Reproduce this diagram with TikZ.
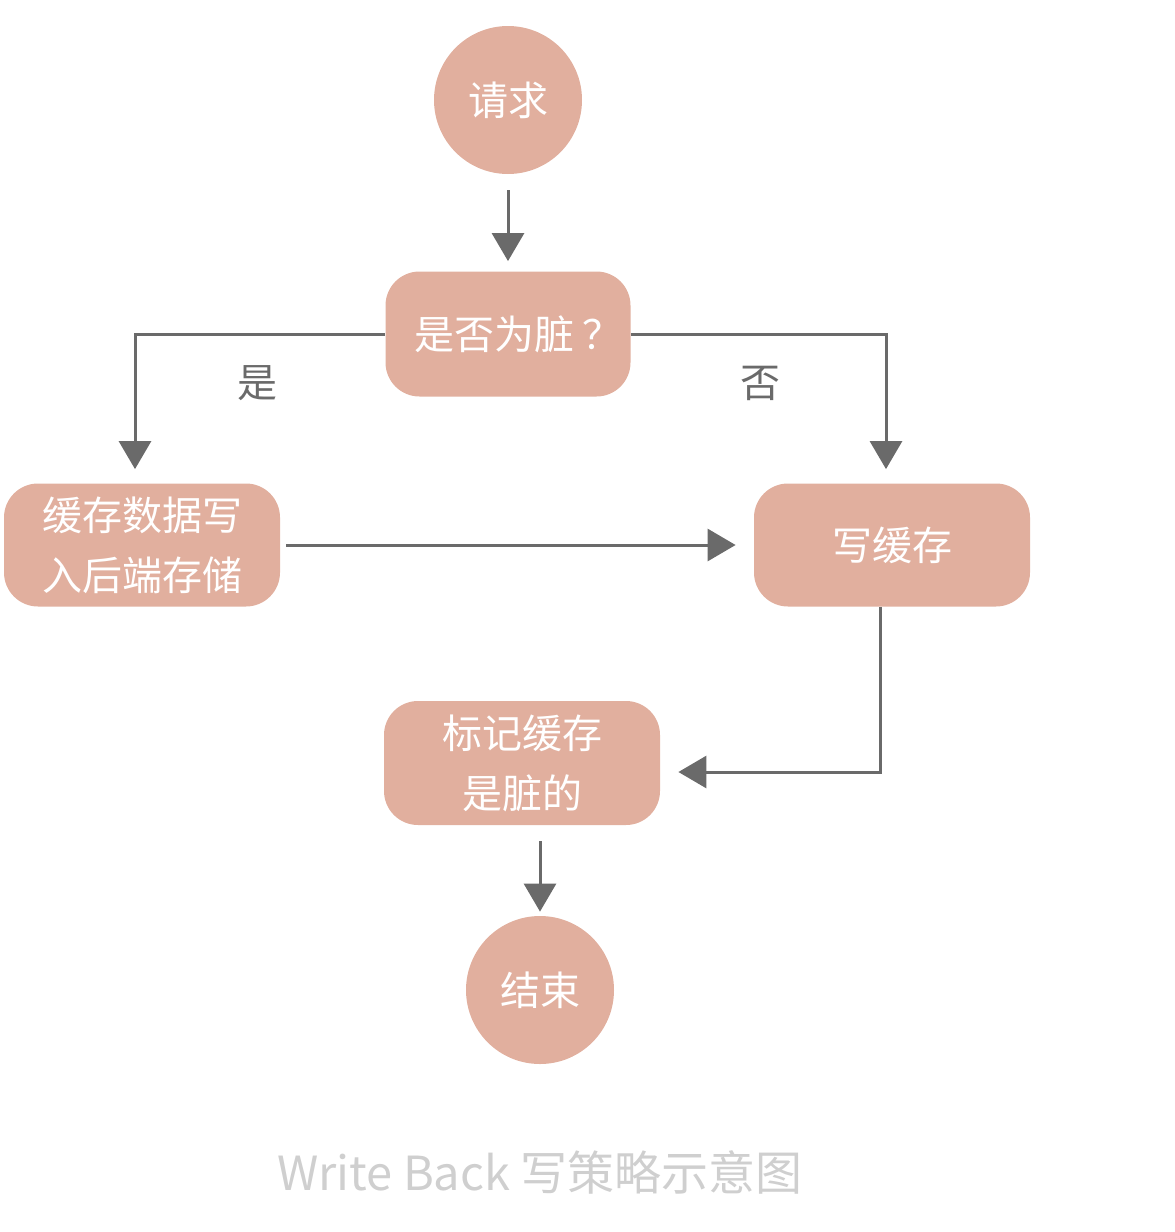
\documentclass[tikz,border=0pt]{standalone}
\usepackage{fontspec}
\setmainfont{Noto Sans CJK SC}
\usetikzlibrary{arrows.meta}
\definecolor{boxfill}{HTML}{E1AF9E}
\definecolor{linegray}{HTML}{6A6A6A}
\definecolor{capgray}{HTML}{CFCFCF}
\begin{document}
\begin{tikzpicture}[x=0.5pt,y=-0.5pt,
  txt/.style={font=\fontsize{20}{30}\selectfont, text=white},
  roundbox/.style={txt, fill=boxfill, rounded corners=17pt, align=center, inner sep=0pt},
  endpoint/.style={txt, fill=boxfill, circle, minimum size=74pt, inner sep=0pt},
  conn/.style={draw=linegray, line width=1.5pt, -{Triangle[width=16pt,length=14pt]}},
  lbl/.style={font=\fontsize{20}{25}\selectfont, text=linegray}]
\useasboundingbox (0,0) rectangle (1174,1232);
\node[endpoint] (req) at (508,100) {请求};
\node[roundbox, minimum width=122.5pt, minimum height=62.5pt] (q) at (508,334) {是否为脏\hspace{4pt}？\hspace{-10pt}};
\node[roundbox, minimum width=138pt, minimum height=61.5pt] (a) at (142,545) {缓存数据写\\入后端存储};
\node[roundbox, minimum width=138pt, minimum height=61.5pt] (w) at (892,545) {写缓存};
\node[roundbox, minimum width=138pt, minimum height=62pt] (m) at (522,763) {标记缓存\\是脏的};
\node[endpoint] (e) at (540,990) {结束};
\node[lbl] (yes) at (257,383) {是};
\node[lbl] (no) at (760,383) {否};
\node[font=\fontsize{23.5}{28}\selectfont, text=capgray] (cap) at (540,1172) {Write Back 写策略示意图};

\draw[conn, shorten <=8pt, shorten >=5pt] (req.south) -- (q.north);
\draw[conn, shorten >=7pt] (q.west) -| ([xshift=-3.5pt]a.north);
\draw[conn, shorten >=7pt] (q.east) -| ([xshift=-3pt]w.north);
\draw[conn, shorten <=3pt, shorten >=9pt] (a.east) -- (w.west);
\draw[conn, shorten >=9pt] ([xshift=-6pt]w.south) |- ([yshift=-4.5pt]m.east);
\draw[conn, shorten <=8pt, shorten >=2pt] (m.south -| e.north) -- (e.north);
\end{tikzpicture}
\end{document}
